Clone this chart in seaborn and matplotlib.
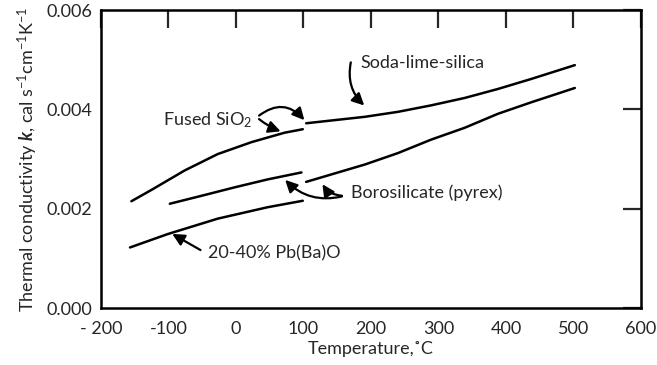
import pandas as pd
import matplotlib
matplotlib.use("Agg")
import matplotlib.pyplot as plt
import seaborn as sns

# curve data (temperature in C, k in cal/s/cm/K)
fused_t = [-155, -125, -76, -27, 23, 72, 99]
fused_k = [0.00215, 0.00238, 0.00277, 0.00310, 0.00334, 0.00353, 0.00360]

boro_low_t = [-98, -51, -2, 47, 97]
boro_low_k = [0.00210, 0.00226, 0.00243, 0.00259, 0.00273]

boro_high_t = [104, 191, 240, 289, 339, 388, 437, 502]
boro_high_k = [0.00254, 0.00289, 0.00312, 0.00339, 0.00363, 0.00391, 0.00414, 0.00443]

soda_t = [104, 191, 240, 289, 339, 388, 437, 502]
soda_k = [0.00372, 0.00385, 0.00395, 0.00408, 0.00423, 0.00441, 0.00461, 0.00489]

pb_t = [-157, -101, -27, 47, 99]
pb_k = [0.00122, 0.00149, 0.00180, 0.00203, 0.00216]

x_ticks = [-200, -100, 0, 100, 200, 300, 400, 500, 600]
x_labels = ["- 200", "-100", "0", "100", "200", "300", "400", "500", "600"]
y_ticks = [0.000, 0.002, 0.004, 0.006]
y_labels = ["0.000", "0.002", "0.004", "0.006"]

# build one long table
parts = [
    ("fused", fused_t, fused_k),
    ("boro_low", boro_low_t, boro_low_k),
    ("boro_high", boro_high_t, boro_high_k),
    ("soda", soda_t, soda_k),
    ("pb", pb_t, pb_k),
]
df = pd.concat([pd.DataFrame({"curve": n, "T": t, "k": k}) for n, t, k in parts],
               ignore_index=True)

sns.set_style("white")
plt.rcParams["font.family"] = ["Lato", "DejaVu Sans"]
plt.rcParams["mathtext.fontset"] = "custom"
plt.rcParams["mathtext.rm"] = "Lato"
plt.rcParams["mathtext.bf"] = "Lato:italic:bold"
plt.rcParams["mathtext.it"] = "Lato:italic"

fig = plt.figure(figsize=(6.57, 3.65), dpi=100)
ax = fig.add_axes([0.1537, 0.156, 0.8219, 0.8166])

sns.lineplot(data=df, x="T", y="k", units="curve", estimator=None, sort=False,
             color="black", linewidth=1.8, ax=ax)

ax.set_xlim(-200, 600)
ax.set_ylim(0, 0.006)
ax.set_xticks(x_ticks)
ax.set_xticklabels(x_labels, fontsize=13)
ax.set_yticks(y_ticks)
ax.set_yticklabels(y_labels, fontsize=13)
ax.tick_params(direction="in", length=13, width=1.6, top=True, right=True, pad=6)
ax.tick_params(axis="x", pad=9)
for s in ax.spines.values():
    s.set_linewidth(1.8)
    s.set_color("black")

ax.set_xlabel("Temperature,˚C", fontsize=13, labelpad=3)
ax.set_ylabel(r"Thermal conductivity $\mathbf{k}$, cal s$^{-1}$cm$^{-1}$K$^{-1}$",
              fontsize=13, labelpad=5)

# labels
ax.text(184, 0.00494, "Soda-lime-silica", fontsize=13, va="center")
ax.text(-108, 0.00378, r"Fused SiO$_2$", fontsize=13, va="center")
ax.text(170, 0.00232, "Borosilicate (pyrex)", fontsize=13, va="center")
ax.text(-41, 0.00110, "20-40% Pb(Ba)O", fontsize=13, va="center")

# arrows
arr = dict(arrowstyle="-|>", color="black", lw=1.6, mutation_scale=18)
ax.annotate("", xy=(193, 0.00404), xytext=(171, 0.00500),
            arrowprops=dict(arr, connectionstyle="arc3,rad=0.3"))
ax.annotate("", xy=(104, 0.00374), xytext=(31, 0.00384),
            arrowprops=dict(arr, connectionstyle="arc3,rad=-0.5"))
ax.annotate("", xy=(70, 0.00354), xytext=(31, 0.00384),
            arrowprops=dict(arr, connectionstyle="arc3,rad=0.1"))
ax.annotate("", xy=(70, 0.00262), xytext=(161, 0.00226),
            arrowprops=dict(arr, connectionstyle="arc3,rad=-0.3"))
ax.annotate("", xy=(126, 0.00254), xytext=(161, 0.00226),
            arrowprops=dict(arr, connectionstyle="arc3,rad=-0.3"))
ax.annotate("", xy=(-98, 0.00152), xytext=(-49, 0.00114),
            arrowprops=dict(arr, connectionstyle="arc3,rad=0"))

fig.savefig("out.png", dpi=100)
